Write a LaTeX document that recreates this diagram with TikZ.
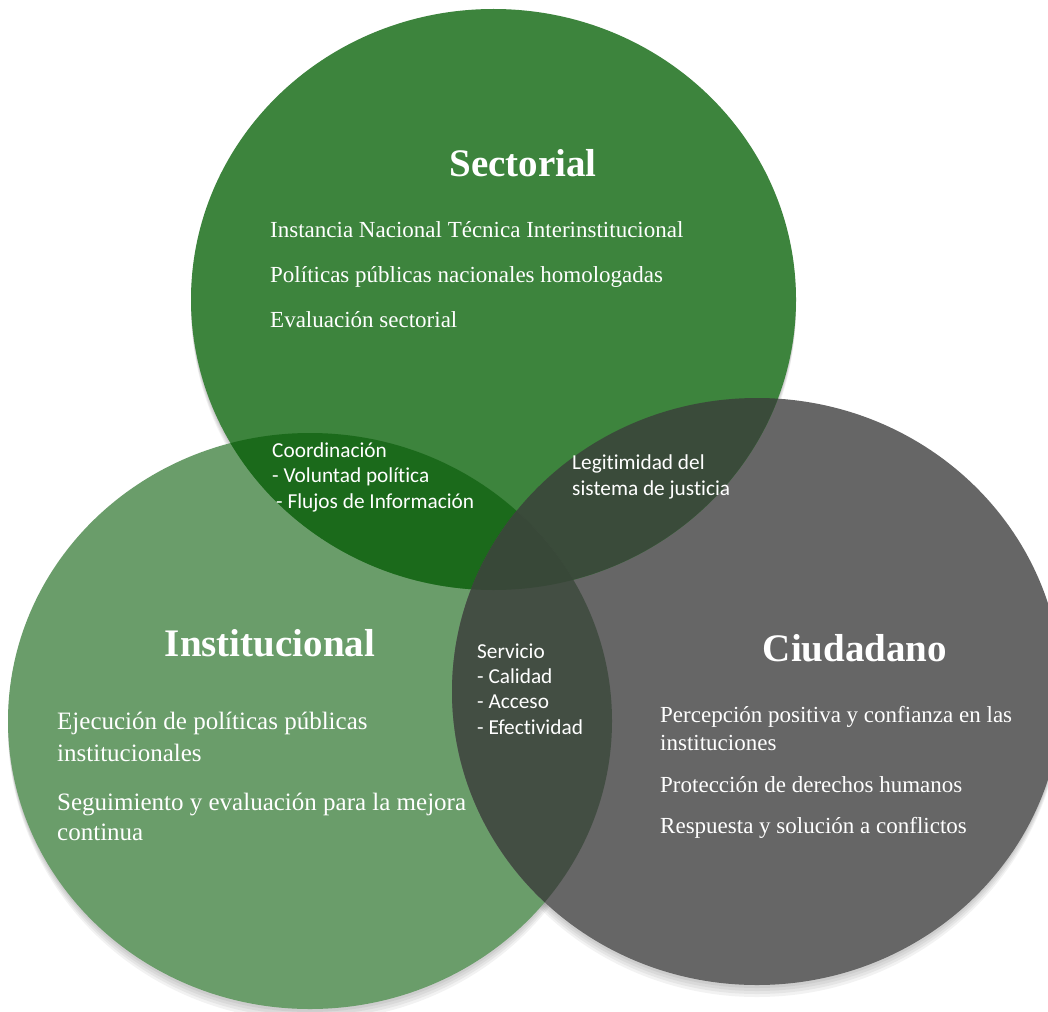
\documentclass[tikz,border=0pt]{standalone}
\usepackage{fontspec}
\setmainfont{Liberation Serif}
\newfontfamily\calibrifont[Ligatures={NoCommon}]{Carlito}
\definecolor{colS}{RGB}{61,132,61}
\definecolor{colI}{RGB}{106,157,106}
\definecolor{colC}{RGB}{102,102,102}
\definecolor{colSI}{RGB}{27,106,27}
\definecolor{colSC}{RGB}{58,75,58}
\definecolor{colIC}{RGB}{67,78,67}
\definecolor{colSIC}{RGB}{56,72,56}
\newcommand\VennS{(493.5,299.5) ellipse [x radius=302.5pt, y radius=290.5pt]}
\newcommand\VennI{(310,721) ellipse [x radius=302pt, y radius=288pt]}
\newcommand\VennC{(757,691.5) ellipse [x radius=305pt, y radius=293.5pt]}
\tikzset{
  titletext/.style={text=white, inner sep=0pt, anchor=base, font=\fontsize{39}{47}\selectfont\bfseries},
  bodytext/.style={text=white, inner sep=0pt, anchor=base west, font=\fontsize{23}{28}\selectfont},
  bodybig/.style={text=white, inner sep=0pt, anchor=base west, font=\fontsize{25}{30}\selectfont},
  sanstext/.style={text=white, inner sep=0pt, anchor=base west, font=\calibrifont\fontsize{21.3}{25}\selectfont},
  shadowfill/.style={fill=black, fill opacity=0.05}
}
\begin{document}
\begin{tikzpicture}[x=1pt,y=-1pt]
\useasboundingbox (0,0) rectangle (1048,1011);
\fill[white] (0,0) rectangle (1048,1011);
% soft shadows
\foreach \d in {2,4,6,8}{
  \fill[shadowfill] (493.5,{299.5+\d}) ellipse [x radius=302.5pt, y radius={(290.5+\d/2)*1pt}];
  \fill[shadowfill] (310,{721+\d}) ellipse [x radius=302pt, y radius={(288+\d/2)*1pt}];
  \fill[shadowfill] (757,{691.5+\d}) ellipse [x radius=305pt, y radius={(293.5+\d/2)*1pt}];
}
% base fills
\fill[colI] \VennI;
\fill[colC] \VennC;
\fill[colS] \VennS;
% pairwise overlaps
\begin{scope}
  \clip \VennI;
  \fill[colSI] \VennS;
\end{scope}
\begin{scope}
  \clip \VennC;
  \fill[colSC] \VennS;
\end{scope}
\begin{scope}
  \clip \VennI;
  \fill[colIC] \VennC;
\end{scope}
\begin{scope}
  \clip \VennI;
  \clip \VennC;
  \fill[colSIC] \VennS;
\end{scope}
% titles
\node[titletext] (tS) at (523,176) {Sectorial};
\node[titletext] (tI) at (270,656) {Institucional};
\node[titletext] (tC) at (855,661) {Ciudadano};
% Sectorial body
\node[bodytext] (s1) at (270,237) {Instancia Nacional Técnica Interinstitucional};
\node[bodytext] (s2) at (270,282) {Políticas públicas nacionales homologadas};
\node[bodytext] (s3) at (270,327) {Evaluación sectorial};
% Institucional body
\node[bodybig] (i1) at (57,729) {Ejecución de políticas públicas};
\node[bodybig] (i2) at (57,761) {institucionales};
\node[bodybig] (i3) at (57,810) {Seguimiento y evaluación para la mejora};
\node[bodybig] (i4) at (57,840) {continua};
% Ciudadano body
\node[bodytext] (c1) at (660,722) {Percepción positiva y confianza en las};
\node[bodytext] (c2) at (660,750) {instituciones};
\node[bodytext] (c3) at (660,792) {Protección de derechos humanos};
\node[bodytext] (c4) at (660,833) {Respuesta y solución a conflictos};
% overlap labels
\node[sanstext] (o1) at (272,457) {Coordinación};
\node[sanstext] (o2) at (272,482) {- Voluntad política};
\node[sanstext] (o3) at (276,508) {- Flujos de Información};
\node[sanstext] (l1) at (572,469) {Legitimidad del};
\node[sanstext] (l2) at (572,495) {sistema de justicia};
\node[sanstext] (v1) at (477,658) {Servicio};
\node[sanstext] (v2) at (477,683) {- Calidad};
\node[sanstext] (v3) at (477,708) {- Acceso};
\node[sanstext] (v4) at (477,734) {- Efectividad};
\end{tikzpicture}
\end{document}
